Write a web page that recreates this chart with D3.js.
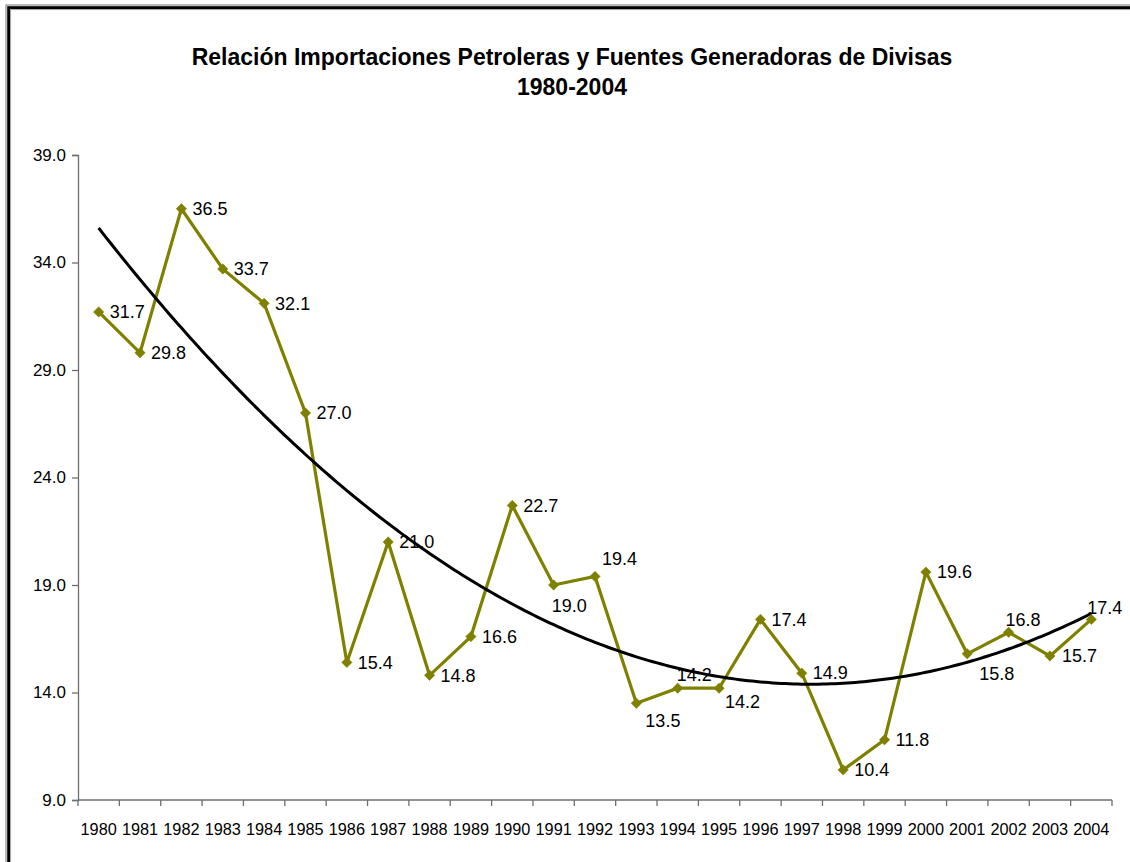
<!DOCTYPE html>
<html>
<head>
<meta charset="utf-8">
<script src="https://cdn.jsdelivr.net/npm/d3@7"></script>
<style>
  html, body { margin: 0; padding: 0; background: #fff; }
  svg { display: block; }
  text { font-family: "Liberation Sans", Arial, sans-serif; fill: #000; }
</style>
</head>
<body>
<svg id="chart" width="1130" height="862"></svg>
<script>
const titleLines = ["Relación Importaciones Petroleras y Fuentes Generadoras de Divisas", "1980-2004"];
const years = ["1980","1981","1982","1983","1984","1985","1986","1987","1988","1989","1990","1991","1992","1993","1994","1995","1996","1997","1998","1999","2000","2001","2002","2003","2004"];
const values = [31.7, 29.8, 36.5, 33.7, 32.1, 27.0, 15.4, 21.0, 14.8, 16.6, 22.7, 19.0, 19.4, 13.5, 14.2, 14.2, 17.4, 14.9, 10.4, 11.8, 19.6, 15.8, 16.8, 15.7, 17.4];
const yTicks = [9, 14, 19, 24, 29, 34, 39];
// label offsets (dx from marker to label start, dy from marker to label centre)
const labelOffsets = [[11,0],[11,0],[11,0],[11,0],[11,0],[11,0],[11,0],[11,0],[11,0],[11,0],[11,0],
  [-2,21],[7,-18],[9,17],[-1,-14],[6,13],[11,0],[11,0],[11,0],[11,0],[11,0],[12,20],[-3,-13],[12,0],[-4,-12]];

const svg = d3.select("#chart");
const W = 1130, H = 862;
const M = {left: 78, right: 1112, top: 155, bottom: 800};

// frame
svg.append("rect").attr("x", 6).attr("y", 5).attr("width", W + 20).attr("height", H + 20)
  .attr("fill", "none").attr("stroke", "#8c8c8c").attr("stroke-width", 1.2);
svg.append("rect").attr("x", 8.6).attr("y", 7.6).attr("width", W + 20).attr("height", H + 20)
  .attr("fill", "none").attr("stroke", "#000").attr("stroke-width", 2.8);
svg.append("rect").attr("x", 10.6).attr("y", 9.6).attr("width", W + 20).attr("height", H + 20)
  .attr("fill", "none").attr("stroke", "#a0a0a0").attr("stroke-width", 1);

// title
const tt = svg.append("text").attr("text-anchor", "middle")
  .style("font-size", "23px").style("font-weight", "bold");
tt.append("tspan").attr("x", 572).attr("y", 65).text(titleLines[0]);
tt.append("tspan").attr("x", 572).attr("y", 95).text(titleLines[1]);

const x = d3.scaleBand().domain(years).range([M.left, M.right]).paddingInner(0).paddingOuter(0);
const y = d3.scaleLinear().domain([9, 39]).range([M.bottom, M.top]);
const cx = d => x(d) + x.bandwidth() / 2;

// y axis
const yAxis = svg.append("g").attr("transform", `translate(${M.left},0)`)
  .call(d3.axisLeft(y).tickValues(yTicks).tickFormat(d3.format(".1f")).tickSizeOuter(0).tickSize(6));
yAxis.select(".domain").attr("stroke", "#6e6e6e").attr("stroke-width", 1.3);
yAxis.selectAll(".tick line").attr("stroke", "#6e6e6e").attr("stroke-width", 1.3);
yAxis.selectAll(".tick text").attr("x", -12).style("font-size", "17px")
  .style("font-family", '"Liberation Sans", Arial, sans-serif').attr("fill", "#000");

// x axis with ticks at category boundaries
const xAxisG = svg.append("g").attr("transform", `translate(0,${M.bottom})`);
xAxisG.append("line").attr("x1", M.left).attr("x2", M.right).attr("y1", 0).attr("y2", 0)
  .attr("stroke", "#6e6e6e").attr("stroke-width", 1.3);
const boundaries = years.map(d => x(d)).concat([x(years[years.length - 1]) + x.bandwidth()]);
xAxisG.selectAll("line.tk").data(boundaries).enter().append("line").attr("class", "tk")
  .attr("x1", d => d).attr("x2", d => d).attr("y1", 0).attr("y2", 6)
  .attr("stroke", "#6e6e6e").attr("stroke-width", 1.3);
xAxisG.selectAll("text").data(years).enter().append("text")
  .attr("x", d => cx(d)).attr("y", 35).attr("text-anchor", "middle")
  .style("font-size", "16.3px").text(d => d);

// series line
const line = d3.line().x((d, i) => cx(years[i])).y(d => y(d));
svg.append("path").datum(values).attr("d", line)
  .attr("fill", "none").attr("stroke", "#808000").attr("stroke-width", 3.2).attr("stroke-linejoin", "miter");

// polynomial (order 2) trend line, least squares on x = 1..n
(function () {
  const n = values.length;
  let S = [0, 0, 0, 0, 0], T = [0, 0, 0];
  values.forEach((v, i) => {
    const t = i + 1;
    for (let k = 0; k <= 4; k++) S[k] += Math.pow(t, k);
    for (let k = 0; k <= 2; k++) T[k] += v * Math.pow(t, k);
  });
  const A = [[S[0], S[1], S[2], T[0]], [S[1], S[2], S[3], T[1]], [S[2], S[3], S[4], T[2]]];
  for (let c = 0; c < 3; c++) {
    for (let r = c + 1; r < 3; r++) {
      const f = A[r][c] / A[c][c];
      for (let k = c; k < 4; k++) A[r][k] -= f * A[c][k];
    }
  }
  const coef = [0, 0, 0];
  for (let r = 2; r >= 0; r--) {
    let s = A[r][3];
    for (let k = r + 1; k < 3; k++) s -= A[r][k] * coef[k];
    coef[r] = s / A[r][r];
  }
  const xt = d3.scaleLinear().domain([1, n]).range([cx(years[0]), cx(years[n - 1])]);
  const samples = d3.range(1, n + 0.0001, 0.1);
  const tl = d3.line().x(t => xt(t)).y(t => y(coef[0] + coef[1] * t + coef[2] * t * t)).curve(d3.curveLinear);
  svg.append("path").datum(samples).attr("d", tl)
    .attr("fill", "none").attr("stroke", "#000").attr("stroke-width", 3);
})();

// markers
svg.selectAll("path.mk").data(values).enter().append("path").attr("class", "mk")
  .attr("transform", (d, i) => `translate(${cx(years[i])},${y(d)})`)
  .attr("d", "M0,-5.2L5.2,0L0,5.2L-5.2,0Z").attr("fill", "#808000").attr("stroke", "#808000").attr("stroke-width", 0.5);

// data labels
svg.selectAll("text.lbl").data(values).enter().append("text").attr("class", "lbl")
  .attr("x", (d, i) => cx(years[i]) + labelOffsets[i][0])
  .attr("y", (d, i) => y(d) + labelOffsets[i][1])
  .attr("dy", "0.35em")
  .style("font-size", "18px")
  .text(d => d3.format(".1f")(d));
</script>
</body>
</html>
